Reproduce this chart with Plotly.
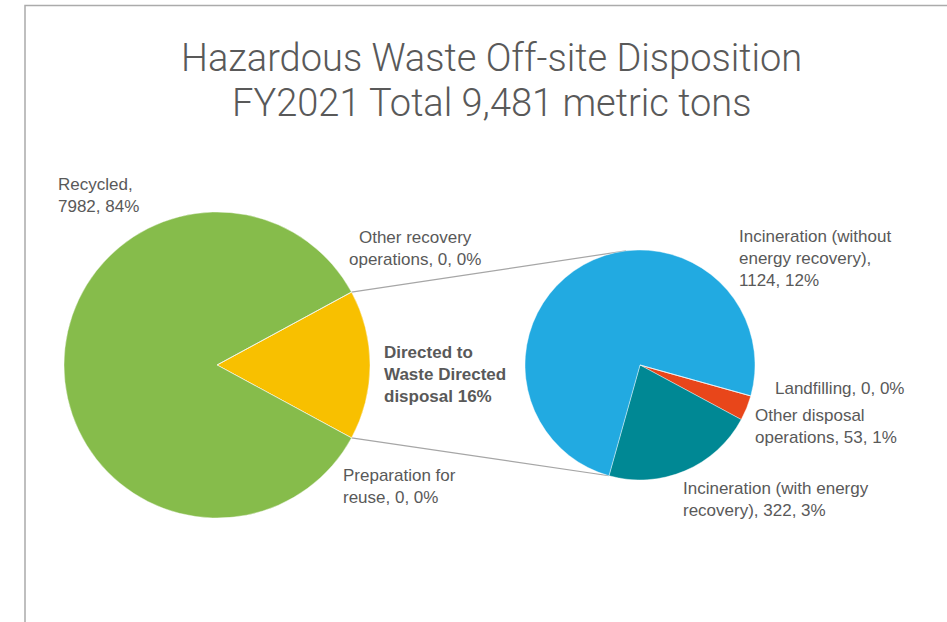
import math
import plotly.graph_objects as go

W, H = 947, 622
OFF = 0  # body margin removed via post_script

# ---------------- data ----------------
title_lines = ["Hazardous Waste Off-site Disposition", "FY2021 Total 9,481 metric tons"]

main_labels = ["Directed to Waste Directed disposal", "Preparation for reuse",
               "Recycled", "Other recovery operations"]
main_values = [1499, 0, 7982, 0]

sub_labels = ["Other disposal operations", "Incineration (with energy recovery)",
              "Incineration (without energy recovery)", "Landfilling"]
sub_values = [53, 322, 1124, 0]

# label templates (line breaks as displayed)
main_label_fmt = ["<b>Directed to<br>Waste Directed<br>disposal {p}%</b>",
                  "Preparation for<br>reuse, {v}, {p}%",
                  "Recycled,<br>{v}, {p}%",
                  "Other recovery<br>operations, {v}, {p}%"]
sub_label_fmt = ["Other disposal<br>operations, {v}, {p}%",
                 "Incineration (with energy<br>recovery), {v}, {p}%",
                 "Incineration (without<br>energy recovery),<br>{v}, {p}%",
                 "Landfilling, {v}, {p}%"]

# ---------------- style ----------------
GREEN, YELLOW = "#86BC4B", "#F8C000"
BLUE, TEAL, ORANGE = "#22AAE1", "#008894", "#E8461A"
main_colors = [YELLOW, GREEN, GREEN, GREEN]
sub_colors = [ORANGE, TEAL, BLUE, BLUE]
TXT = "#595959"
LINE = "#A6A6A6"
FONT = "Liberation Sans, Arial, sans-serif"
LBL_SIZE = 17

total = sum(main_values)


def px(x):
    return (x - OFF) / W


def py(y):
    return 1 - (y - OFF) / H


# geometry (pixels, page coordinates)
C1 = (217, 365); R1 = 153
C2 = (640, 365); R2 = 115

half = 180.0 * main_values[0] / total
rot_main = 90 - half
rot_sub = 105.6

fig = go.Figure()
fig.add_trace(go.Pie(
    labels=main_labels, values=main_values, sort=False, direction="clockwise",
    rotation=rot_main, textinfo="none", hoverinfo="label+value+percent",
    marker=dict(colors=main_colors, line=dict(color="white", width=0.4)),
    domain=dict(x=[px(C1[0] - R1), px(C1[0] + R1)], y=[py(C1[1] + R1), py(C1[1] - R1)]),
    showlegend=False,
))
fig.add_trace(go.Pie(
    labels=sub_labels, values=sub_values, sort=False, direction="clockwise",
    rotation=rot_sub, textinfo="none", hoverinfo="label+value",
    marker=dict(colors=sub_colors, line=dict(color="white", width=0.4)),
    domain=dict(x=[px(C2[0] - R2), px(C2[0] + R2)], y=[py(C2[1] + R2), py(C2[1] - R2)]),
    showlegend=False,
))

# connector lines from the split slice to the second pie
a = math.radians(half)
p_top = (C1[0] + R1 * math.cos(a), C1[1] - R1 * math.sin(a))
p_bot = (C1[0] + R1 * math.cos(a), C1[1] + R1 * math.sin(a))
sub_total = sum(sub_values)
b_bot = math.radians(rot_sub - 90 + 360 * (sub_values[0] + sub_values[1]) / sub_total)
q_bot = (C2[0] + R2 * math.cos(b_bot), C2[1] + R2 * math.sin(b_bot))
b_top = math.radians(-97)
q_top = (C2[0] + R2 * math.cos(b_top), C2[1] + R2 * math.sin(b_top))

shapes = [
    dict(type="line", xref="paper", yref="paper", x0=px(p_top[0]), y0=py(p_top[1]),
         x1=px(q_top[0]), y1=py(q_top[1]), line=dict(color=LINE, width=1.2), layer="below"),
    dict(type="line", xref="paper", yref="paper", x0=px(p_bot[0]), y0=py(p_bot[1]),
         x1=px(q_bot[0]), y1=py(q_bot[1]), line=dict(color=LINE, width=1.2), layer="below"),
    # chart frame (top & left edges visible)
    dict(type="rect", xref="paper", yref="paper", x0=px(25), y0=py(660), x1=px(1000), y1=py(5.5),
         line=dict(color="#ABABAB", width=1.5), fillcolor="rgba(0,0,0,0)"),
]


def pct(v):
    return round(100 * v / total)


# label placement: (x px, y px center, xanchor, align)
main_pos = [(382, 374, "left", "left"), (341, 487, "left", "left"),
            (56, 196, "left", "left"), (415, 248, "center", "center")]
sub_pos = [(753, 426, "left", "left"), (681, 499, "left", "left"),
           (737, 259, "left", "left"), (773, 388, "left", "left")]

annotations = []
for fmt, v, (x, y, xa, al) in list(zip(main_label_fmt, main_values, main_pos)) + \
        list(zip(sub_label_fmt, sub_values, sub_pos)):
    annotations.append(dict(text=fmt.format(v=v, p=pct(v)), x=px(x), y=py(y), xref="paper", yref="paper",
                            xanchor=xa, yanchor="middle", align=al, showarrow=False,
                            font=dict(family=FONT, size=LBL_SIZE, color=TXT)))

# title lines
for line, yc in zip(title_lines, [58, 103]):
    annotations.append(dict(text=line, x=px(491), y=py(yc), xref="paper", yref="paper",
                            xanchor="center", yanchor="middle", showarrow=False,
                            font=dict(family="Roboto, Liberation Sans, sans-serif", size=38,
                                      color=TXT, weight=300)))

fig.update_layout(
    width=W, height=H,
    margin=dict(l=0, r=0, t=0, b=0),
    paper_bgcolor="white", plot_bgcolor="white",
    shapes=shapes,
    annotations=annotations,
)

fig.write_html("out.html", config={"displayModeBar": False},
               post_script="document.body.style.margin='0';document.body.style.overflow='hidden';")
